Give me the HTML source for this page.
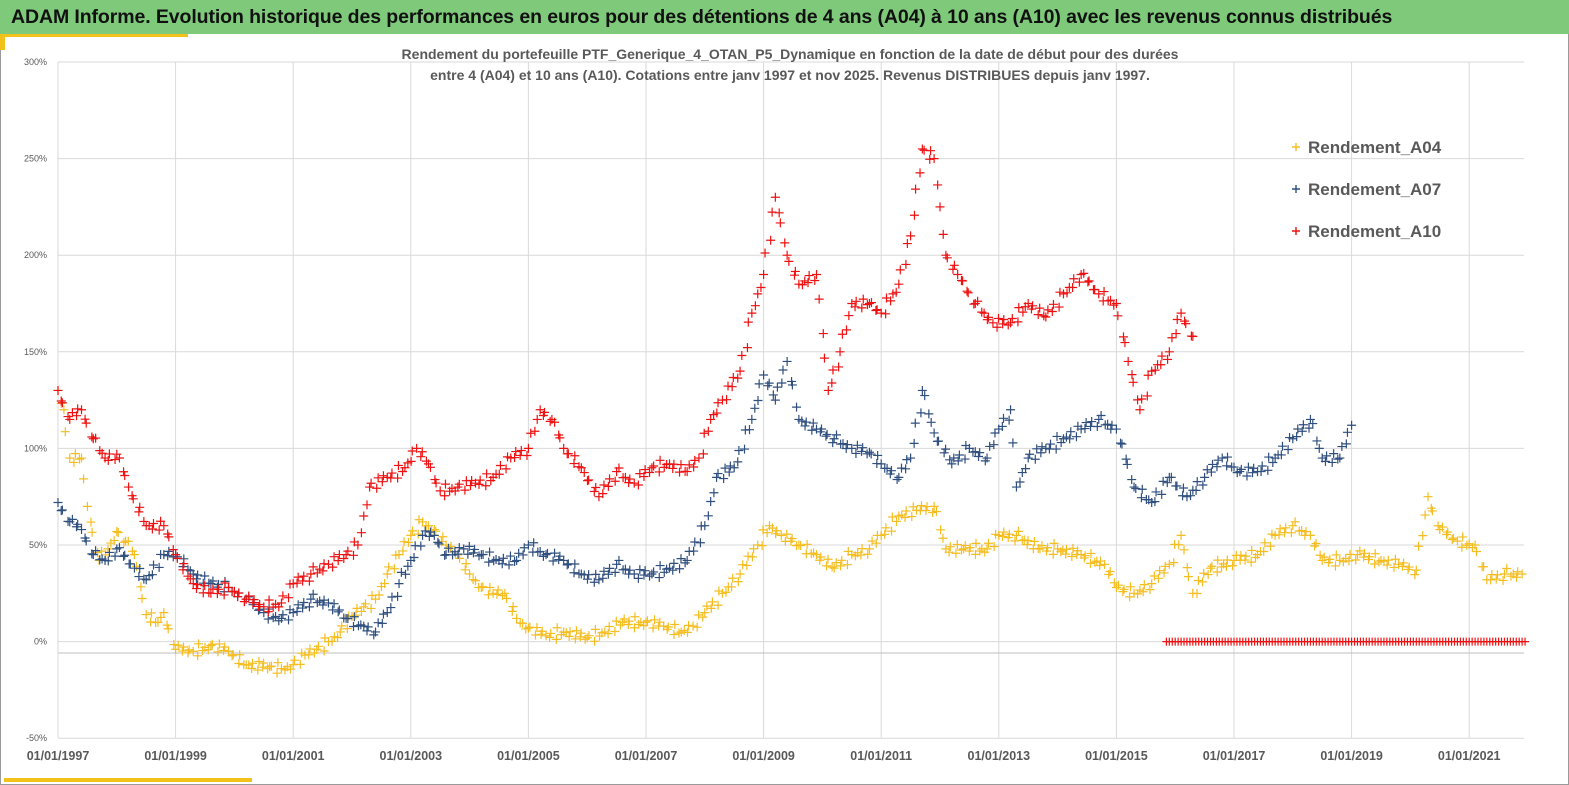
<!DOCTYPE html>
<html><head><meta charset="utf-8">
<style>
body{margin:0;width:1569px;height:785px;overflow:hidden;background:#fff;font-family:"Liberation Sans",sans-serif;}
#frame{position:absolute;left:0;top:0;width:1567px;height:783px;border:1px solid #9a9a9a;}
#hdr{position:absolute;left:0;top:0;width:1569px;height:34px;background:#7ec97a;}
#hdr span{position:absolute;left:11px;top:6px;font-weight:bold;font-size:19.5px;color:#111;white-space:nowrap;letter-spacing:-0.1px;}
</style></head><body>
<div id="frame"></div>
<div id="hdr"><span>ADAM Informe. Evolution historique des performances en euros pour des détentions de 4 ans (A04) à 10 ans (A10) avec les revenus connus distribués</span></div>
<svg id="chart" width="1569" height="785" style="position:absolute;left:0;top:0">
<rect x="0" y="34" width="188" height="3" fill="#f2c21b"/>
<rect x="0" y="34" width="5" height="16" fill="#f2c21b"/>
<rect x="4" y="778" width="248" height="4" fill="#f2c21b"/>
<g id="grid"></g><g id="yt"></g><g id="xt"></g><g id="marks"></g>
<text x="790" y="59" text-anchor="middle" font-size="14" font-weight="bold" fill="#595959">Rendement du portefeuille PTF_Generique_4_OTAN_P5_Dynamique  en fonction de la date de début pour des durées</text>
<text x="790" y="80" text-anchor="middle" font-size="14" font-weight="bold" fill="#595959">entre 4 (A04) et 10 ans (A10). Cotations entre janv 1997 et nov 2025. Revenus DISTRIBUES depuis janv 1997.</text>
<g id="legend"></g>
</svg>
<script>
const yTicks=[300,250,200,150,100,50,0,-50];
const yTickLabels=["300%","250%","200%","150%","100%","50%","0%","-50%"];
const xTicks=[1997,1999,2001,2003,2005,2007,2009,2011,2013,2015,2017,2019,2021];
const xTickLabels=["01/01/1997","01/01/1999","01/01/2001","01/01/2003","01/01/2005","01/01/2007","01/01/2009","01/01/2011","01/01/2013","01/01/2015","01/01/2017","01/01/2019","01/01/2021"];
const a04Dates=[1997.0,1997.1,1997.2,1997.4,1997.5,1997.7,1997.85,1998.0,1998.15,1998.3,1998.5,1998.7,1998.8,1999.0,1999.3,1999.6,1999.9,2000.2,2000.6,2000.8,2001.0,2001.2,2001.4,2001.6,2001.8,2002.0,2002.2,2002.4,2002.6,2002.8,2003.0,2003.2,2003.4,2003.6,2003.8,2004.0,2004.2,2004.4,2004.6,2004.8,2005.0,2005.3,2005.6,2006.0,2006.3,2006.6,2007.0,2007.3,2007.6,2007.8,2008.0,2008.3,2008.6,2008.9,2009.1,2009.3,2009.6,2009.9,2010.2,2010.5,2010.8,2011.0,2011.3,2011.6,2011.9,2012.1,2012.4,2012.8,2013.0,2013.3,2013.7,2014.0,2014.4,2014.8,2015.0,2015.3,2015.6,2015.9,2016.1,2016.3,2016.6,2017.0,2017.4,2017.7,2018.0,2018.3,2018.5,2018.8,2019.1,2019.5,2019.8,2020.1,2020.3,2020.5,2020.8,2021.1,2021.3,2021.6,2021.9];
const a04Values=[130,120,95,95,70,42,48,57,52,45,14,10,15,-4,-5,-2,-5,-12,-13,-14,-12,-7,-4,0,5,13,18,22,35,45,55,62,58,50,45,35,28,25,25,12,7,3,5,2,5,10,10,8,5,8,15,25,35,50,60,55,50,45,38,45,48,55,65,68,70,48,48,48,55,55,48,48,45,40,28,25,30,40,55,25,38,42,45,55,60,55,42,42,45,42,40,37,75,58,52,50,32,35,35];
const a07Dates=[1997.0,1997.2,1997.4,1997.6,1997.8,1998.0,1998.3,1998.5,1998.8,1999.0,1999.3,1999.6,1999.9,2000.2,2000.5,2000.8,2001.0,2001.3,2001.6,2001.9,2002.2,2002.4,2002.6,2002.8,2003.0,2003.2,2003.4,2003.6,2003.9,2004.2,2004.5,2004.8,2005.0,2005.3,2005.6,2005.9,2006.2,2006.5,2006.8,2007.1,2007.4,2007.7,2008.0,2008.2,2008.5,2008.8,2009.0,2009.2,2009.4,2009.6,2009.9,2010.2,2010.5,2010.8,2011.0,2011.3,2011.5,2011.7,2011.9,2012.2,2012.5,2012.8,2013.0,2013.2,2013.3,2013.5,2013.8,2014.1,2014.4,2014.7,2015.0,2015.3,2015.6,2015.9,2016.2,2016.5,2016.8,2017.1,2017.4,2017.7,2018.0,2018.3,2018.5,2018.8,2019.0];
const a07Values=[72,62,58,45,42,48,38,32,45,45,35,30,28,22,15,12,15,22,20,12,8,5,15,30,42,55,55,45,48,45,42,42,50,45,42,35,32,40,35,35,38,42,60,85,90,115,138,125,145,115,110,105,100,98,92,85,95,130,108,92,100,95,110,120,80,95,100,105,110,115,110,80,72,85,75,85,95,88,88,95,105,115,95,95,112];
const a10Dates=[1997.0,1997.2,1997.4,1997.6,1997.8,1998.0,1998.2,1998.5,1998.8,1999.0,1999.3,1999.6,1999.9,2000.2,2000.5,2000.8,2001.0,2001.3,2001.6,2001.9,2002.1,2002.3,2002.6,2002.9,2003.1,2003.3,2003.5,2003.8,2004.1,2004.4,2004.7,2005.0,2005.2,2005.4,2005.6,2005.9,2006.2,2006.5,2006.8,2007.1,2007.4,2007.7,2007.9,2008.1,2008.3,2008.6,2008.8,2009.0,2009.2,2009.4,2009.6,2009.9,2010.1,2010.3,2010.5,2010.8,2011.0,2011.3,2011.5,2011.7,2011.9,2012.1,2012.3,2012.6,2012.9,2013.2,2013.5,2013.8,2014.1,2014.4,2014.7,2015.0,2015.2,2015.4,2015.6,2015.9,2016.1,2016.3];
const a10Values=[130,115,120,105,95,97,80,60,60,45,30,25,28,22,18,20,30,35,40,45,50,80,85,90,100,92,78,80,82,85,95,100,120,115,100,90,75,88,82,90,92,88,95,115,125,140,170,190,230,200,185,190,130,150,175,175,170,185,210,255,250,200,190,175,165,165,175,168,180,190,180,175,145,120,140,150,170,158];
const a10ZeroStart=2015.85, a10ZeroEnd=2021.95, a10ZeroValue=0;

const X0=58,PX_PER_YEAR=58.8,Y0=641.6,PX_PER_PCT=96.6/50;
const PL=58,PR=1524,PT=62,PB=738;
function sx(d){return X0+(d-1997)*PX_PER_YEAR;}
function sy(v){return Y0-v*PX_PER_PCT;}
const NS="http://www.w3.org/2000/svg";
function mk(tag,attrs,parent){const e=document.createElementNS(NS,tag);for(const k in attrs)e.setAttribute(k,attrs[k]);parent.appendChild(e);return e;}
const grid=document.getElementById('grid'),yt=document.getElementById('yt'),xt=document.getElementById('xt'),marks=document.getElementById('marks'),legend=document.getElementById('legend');
yTicks.forEach((t,i)=>{
  const l=mk('line',{x1:PL,x2:PR,y1:sy(t),y2:sy(t),stroke:'#d9d9d9','stroke-width':1},grid);
  
  
  const tx=mk('text',{x:47,y:sy(t)+3,'text-anchor':'end','font-size':9,fill:'#595959'},yt);
  tx.textContent=yTickLabels[i];
  
  
});
xTicks.forEach((t,i)=>{
  const l=mk('line',{x1:sx(t),x2:sx(t),y1:PT,y2:PB,stroke:'#d9d9d9','stroke-width':1},grid);
  
  
  const tx=mk('text',{x:sx(t),y:760,'text-anchor':'middle','font-size':12.5,'font-weight':'bold',fill:'#595959'},xt);
  tx.textContent=xTickLabels[i];
  
  
});
const ax=mk('line',{x1:PL,x2:PR,y1:653,y2:653,stroke:'#bfbfbf','stroke-width':1},grid);


const ay=mk('line',{x1:PL,x2:PL,y1:PT,y2:PB,stroke:'#d9d9d9','stroke-width':1},grid);


function plus(x,y,c,s,name){
  const p=mk('path',{d:`M${x-s},${y}H${x+s}M${x},${y-s}V${y+s}`,stroke:c,'stroke-width':1.2,fill:'none'},marks);
  
  
}
const jit=[0,3,-2,4,-4,1,-3,2,-1,5,-5,2];
function series(dates,vals,c,name){
  let cnt=0;
  for(let i=0;i<dates.length;i++){
    const x1=sx(dates[i]),y1=sy(vals[i]);
    plus(x1,y1,c,4.5,name);
    if(i<dates.length-1){
      const x2=sx(dates[i+1]),y2=sy(vals[i+1]);
      const n=Math.max(1,Math.floor((x2-x1)/2.6));
      for(let k=1;k<n;k++){
        const f=k/n;
        cnt++;
        plus(x1+(x2-x1)*f+(jit[(cnt*5)%12]*0.3),y1+(y2-y1)*f+jit[cnt%12]*1.1,c,4.5,name);
      }
    }
  }
}
series(a04Dates,a04Values,'#f5bd1f','point-a04');
series(a07Dates,a07Values,'#2f4f7f','point-a07');
series(a10Dates,a10Values,'#ee1111','point-a10');
for(let d=a10ZeroStart;d<=a10ZeroEnd;d+=0.05){plus(sx(d),sy(a10ZeroValue),'#ee1111',4,'point-a10-zero');}
const leg=[['Rendement_A04','#f5bd1f',147],['Rendement_A07','#2f4f7f',189],['Rendement_A10','#ee1111',231]];
leg.forEach(L=>{
  const m=mk('path',{d:`M1292,${L[2]}h8M1296,${L[2]-4}v8`,stroke:L[1],'stroke-width':1.4},legend);
  
  
  const t=mk('text',{x:1308,y:L[2]+6,'font-size':17,'font-weight':'bold',fill:'#595959'},legend);
  t.textContent=L[0];
  
  
});
</script>
</body></html>
